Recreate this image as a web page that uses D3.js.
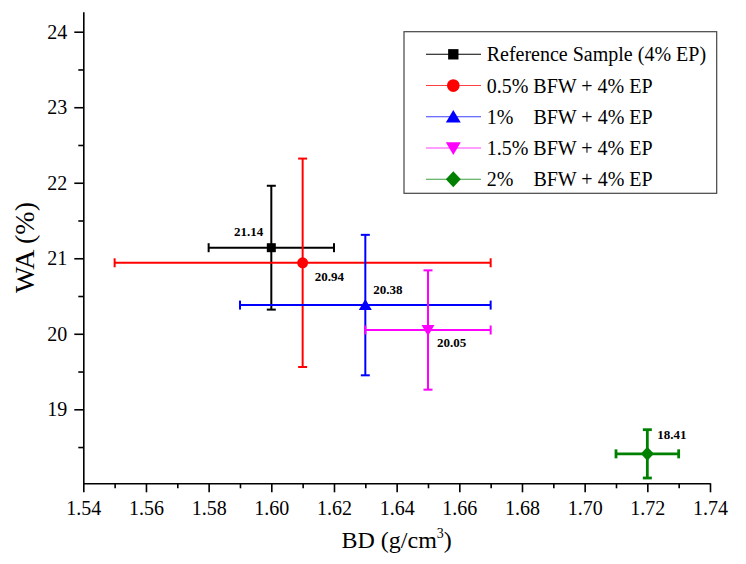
<!DOCTYPE html>
<html><head><meta charset="utf-8">
<script src="https://cdn.jsdelivr.net/npm/d3@7"></script>
<style>
body{margin:0;background:#fff}
svg{display:block}
svg text{font-family:"Liberation Serif",serif !important}
</style>
</head><body>
<svg id="chart" width="746" height="564" font-family="Liberation Serif"></svg>
<script>
// ---- data ----
const seriesNames = ["Reference Sample (4% EP)", "0.5% BFW + 4% EP", "1%    BFW + 4% EP", "1.5% BFW + 4% EP", "2%    BFW + 4% EP"];
const bdValues = [1.60, 1.61, 1.63, 1.65, 1.72];
const waValues = [21.14, 20.94, 20.38, 20.05, 18.41];
const bdErrors = [0.02, 0.06, 0.04, 0.02, 0.01];
const waErrors = [0.82, 1.38, 0.93, 0.79, 0.32];
const pointLabels = ["21.14", "20.94", "20.38", "20.05", "18.41"];
const xTicks = [1.54, 1.56, 1.58, 1.60, 1.62, 1.64, 1.66, 1.68, 1.70, 1.72, 1.74];
const xMinorTicks = [1.55, 1.57, 1.59, 1.61, 1.63, 1.65, 1.67, 1.69, 1.71, 1.73];
const yTicks = [19, 20, 21, 22, 23, 24];
const yMinorTicks = [18.5, 19.5, 20.5, 21.5, 22.5, 23.5];

// ---- styles ----
const FONT = "Liberation Serif";
const colors = ["#000000", "#ff0000", "#0000ff", "#ff00ff", "#008000"];
const markers = ["square", "circle", "triangleUp", "triangleDown", "diamond"];
const barWidths = [2, 2, 2, 2, 2.8];
const labelDx = [-8, 12, 8, 9, 10];
const labelDy = [-12, 18, -11, 17, -15];
const labelAnchor = ["end", "start", "start", "start", "start"];
const legendTabGap = 46.7; // width of "0.5% " at 20px

const svg = d3.select("#chart");
const x = d3.scaleLinear().domain([1.54, 1.74]).range([83.3, 710]);
const y = d3.scaleLinear().domain([18.02, 24.265]).range([483.3, 11.7]);

function markerPath(type, cx, cy, s) {
  const p = d3.path();
  if (type === "square") {
    p.rect(cx - s * 0.45, cy - s * 0.45, s * 0.9, s * 0.9);
  } else if (type === "circle") {
    p.arc(cx, cy, s * 0.55, 0, 2 * Math.PI);
  } else if (type === "triangleUp") {
    p.moveTo(cx, cy - s * 0.6); p.lineTo(cx + s * 0.65, cy + s * 0.5); p.lineTo(cx - s * 0.65, cy + s * 0.5); p.closePath();
  } else if (type === "triangleDown") {
    p.moveTo(cx, cy + s * 0.6); p.lineTo(cx + s * 0.65, cy - s * 0.5); p.lineTo(cx - s * 0.65, cy - s * 0.5); p.closePath();
  } else {
    p.moveTo(cx, cy - s * 0.7); p.lineTo(cx + s * 0.65, cy); p.lineTo(cx, cy + s * 0.7); p.lineTo(cx - s * 0.65, cy); p.closePath();
  }
  return p.toString();
}

// ---- axes ----
const fmt = d3.format(".2f");
const gx = svg.append("g").attr("transform", `translate(0,${y.range()[0]})`);
gx.call(d3.axisBottom(x).tickValues(xTicks).tickFormat(fmt).tickSize(9).tickSizeOuter(0).tickPadding(9));
const gxm = svg.append("g").attr("transform", `translate(0,${y.range()[0]})`);
gxm.call(d3.axisBottom(x).tickValues(xMinorTicks).tickFormat("").tickSize(5).tickSizeOuter(0));
gxm.select(".domain").remove();

const gy = svg.append("g").attr("transform", `translate(${x.range()[0]},0)`);
gy.call(d3.axisLeft(y).tickValues(yTicks).tickFormat(d3.format("d")).tickSize(9).tickSizeOuter(0).tickPadding(7));
const gym = svg.append("g").attr("transform", `translate(${x.range()[0]},0)`);
gym.call(d3.axisLeft(y).tickValues(yMinorTicks).tickFormat("").tickSize(5).tickSizeOuter(0));
gym.select(".domain").remove();

[gx, gxm, gy, gym].forEach(a => a.attr("font-family", FONT).attr("font-size", 20));
svg.selectAll(".domain, .tick line").attr("stroke", "#000").attr("stroke-width", 1.6);
svg.selectAll(".tick text").attr("fill", "#000").attr("font-family", FONT).style("font-size", "20px");

// axis titles
const xt = svg.append("text").attr("x", (x.range()[0] + x.range()[1]) / 2).attr("y", 548)
  .attr("text-anchor", "middle").attr("font-family", FONT).style("font-size", "24px");
xt.append("tspan").text("BD (g/cm");
xt.append("tspan").text("3").style("font-size", "14px").attr("dy", -10);
xt.append("tspan").text(")").attr("dy", 10);

svg.append("text").attr("transform", `translate(34,${(y.range()[0] + y.range()[1]) / 2}) rotate(-90)`)
  .attr("text-anchor", "middle").attr("font-family", FONT).style("font-size", "28px").text("WA (%)");

// ---- error bars & markers ----
const cap = 4.5;
const g = svg.append("g");
bdValues.forEach((bd, i) => {
  const cx = x(bd), cy = y(waValues[i]);
  const x0 = x(bd - bdErrors[i]), x1 = x(bd + bdErrors[i]);
  const y0 = y(waValues[i] - waErrors[i]), y1 = y(waValues[i] + waErrors[i]);
  const s = g.append("g").attr("stroke", colors[i]).attr("stroke-width", barWidths[i]).attr("fill", "none");
  s.append("line").attr("x1", x0).attr("x2", x1).attr("y1", cy).attr("y2", cy);
  s.append("line").attr("x1", x0).attr("x2", x0).attr("y1", cy - cap).attr("y2", cy + cap);
  s.append("line").attr("x1", x1).attr("x2", x1).attr("y1", cy - cap).attr("y2", cy + cap);
  s.append("line").attr("x1", cx).attr("x2", cx).attr("y1", y0).attr("y2", y1);
  s.append("line").attr("x1", cx - cap).attr("x2", cx + cap).attr("y1", y0).attr("y2", y0);
  s.append("line").attr("x1", cx - cap).attr("x2", cx + cap).attr("y1", y1).attr("y2", y1);
  g.append("path").attr("d", markerPath(markers[i], cx, cy, 10)).attr("fill", colors[i]);
  g.append("text").attr("x", cx + labelDx[i]).attr("y", cy + labelDy[i])
    .attr("text-anchor", labelAnchor[i]).attr("font-family", FONT).style("font-size", "13px").style("font-weight", "bold")
    .text(pointLabels[i]);
});

// ---- legend ----
const lg = svg.append("g");
lg.append("rect").attr("x", 404).attr("y", 31.7).attr("width", 312.7).attr("height", 161.6)
  .attr("fill", "#fff").attr("stroke", "#444").attr("stroke-width", 1.2);
seriesNames.forEach((name, i) => {
  const ry = 54.3 + i * 31.25;
  lg.append("line").attr("x1", 426).attr("x2", 481).attr("y1", ry).attr("y2", ry)
    .attr("stroke", colors[i]).attr("stroke-width", 1.1).attr("opacity", i === 0 ? 1 : 0.75);
  lg.append("path").attr("d", markerPath(markers[i], 453.3, ry, 11.5)).attr("fill", colors[i]);
  const parts = name.split(/\s{2,}/);
  const t = lg.append("text").attr("x", 486.7).attr("y", ry + 7).attr("font-family", FONT).style("font-size", "20px");
  if (parts.length > 1) {
    t.append("tspan").text(parts[0] + " ");
    t.append("tspan").attr("x", 486.7 + legendTabGap).text(parts[1]);
  } else {
    t.text(name);
  }
});
</script>
</body></html>
